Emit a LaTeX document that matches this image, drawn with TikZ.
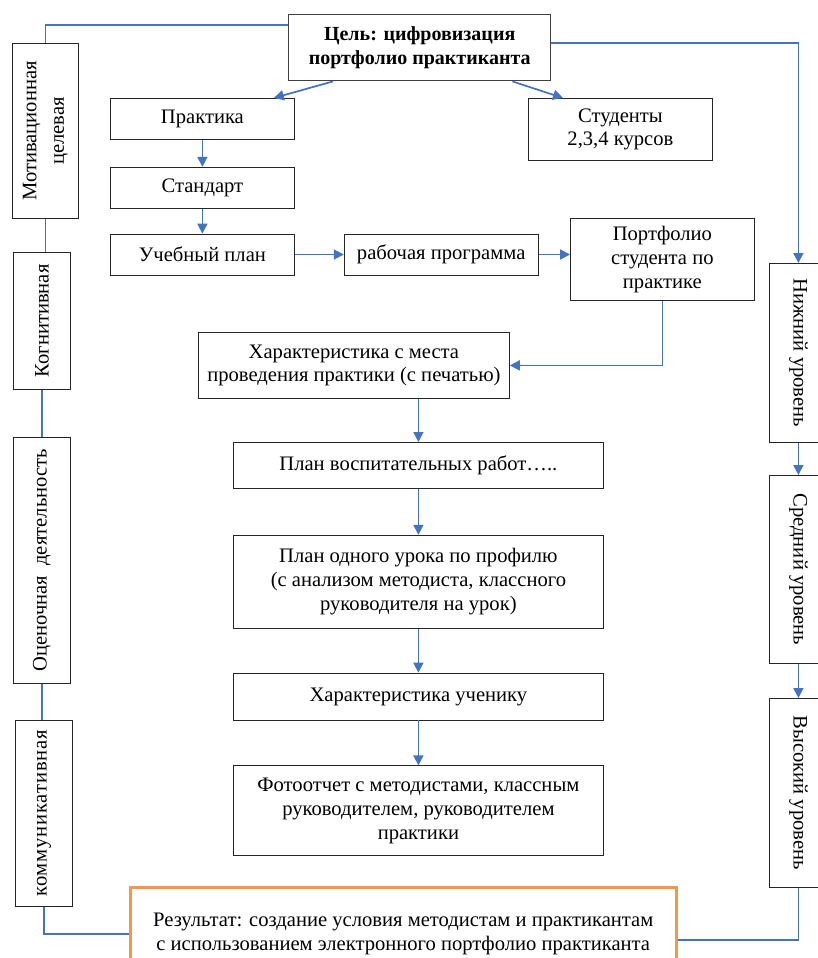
\documentclass[tikz,border=0pt]{standalone}
\usepackage{fontspec}
\setmainfont{Liberation Serif}
\usepackage{graphicx}
\usepackage{tikz}
\usetikzlibrary{arrows.meta,positioning}

\definecolor{linkblue}{RGB}{68,114,196}
\definecolor{resorange}{RGB}{247,150,70}

\tikzset{
  box/.style={draw=black!85, line width=0.8pt, align=center, inner sep=2pt, font={\fontsize{20.6}{23.7}\selectfont}},
  flow/.style={-{Triangle[width=10pt,length=10pt]}, draw=linkblue, line width=1.7pt},
  link/.style={draw=linkblue, line width=1.7pt}
}

\begin{document}
\begin{tikzpicture}[x=1pt, y=-1pt]

\path[use as bounding box, fill=white] (0,0) rectangle (817,958);

\node[box, draw=black!75, line width=1.4pt, minimum width=262pt, minimum height=66pt, anchor=north west, font={\fontsize{20}{23.7}\selectfont\bfseries}] (goal) at (288,14) {Цель: цифровизация\\портфолио практиканта};

% left column
\node[box, minimum width=66pt, minimum height=175pt, anchor=north west] (motiv) at (12,43) {\rotatebox{90}{\begin{tabular}{@{}c@{}}Мотивационная\\[4pt]целевая\end{tabular}}};
\node[box, minimum width=57pt, minimum height=137pt, anchor=north west] (kogn) at (13,252) {\rotatebox{90}{Когнитивная}};
\node[box, minimum width=57pt, minimum height=246pt, anchor=north west] (ocen) at (13,437) {\rotatebox{90}{Оценочная~~деятельность}};
\node[box, minimum width=57pt, minimum height=186pt, anchor=north west] (komm) at (15,720) {\rotatebox{90}{\addfontfeature{LetterSpace=4}коммуникативная}};

% right column
\node[box, minimum width=58pt, minimum height=179pt, anchor=north west] (nizh) at (769,263) {\rotatebox{-90}{Нижний уровень}};
\node[box, minimum width=58pt, minimum height=188pt, anchor=north west] (sred) at (769,475) {\rotatebox{-90}{Средний уровень}};
\node[box, minimum width=58pt, minimum height=189pt, anchor=north west] (vys) at (769,698) {\rotatebox{-90}{Высокий уровень}};

% middle
\node[box, minimum width=184pt, minimum height=41pt, anchor=north west] (praktika) at (110,98) {Практика};
\node[box, minimum width=184pt, minimum height=41pt, below=27pt of praktika] (standart) {Стандарт};
\node[box, minimum width=184pt, minimum height=41pt, below=25pt of standart] (uchplan) {Учебный план};
\node[box, minimum width=194pt, minimum height=41pt, right=49pt of uchplan] (rabprog) {рабочая программа};
\node[box, minimum width=184pt, minimum height=62pt, anchor=north west] (studenty) at (528,98) {Студенты\\2,3,4 курсов};
\node[box, minimum width=184pt, minimum height=82pt, anchor=north west] (portfolio) at (570,218) {Портфолио\\студента по\\практике};
\node[box, minimum width=311pt, minimum height=66pt, anchor=north west] (harakt) at (198,332) {Характеристика с места\\проведения практики (с печатью)};
\node[box, minimum width=370pt, minimum height=46pt, anchor=north west] (planvosp) at (233,442) {План воспитательных работ…..};
\node[box, minimum width=370pt, minimum height=93pt, below=46pt of planvosp] (planurok) {План одного урока по профилю\\(с анализом методиста, классного\\руководителя на урок)};
\node[box, minimum width=370pt, minimum height=47pt, below=44pt of planurok] (haruch) {Характеристика ученику};
\node[box, minimum width=370pt, minimum height=90pt, below=45pt of haruch] (foto) {Фотоотчет с методистами, классным\\руководителем, руководителем\\практики};

\node[box, draw=resorange, line width=2.5pt, minimum width=546pt, minimum height=94pt, anchor=north west] (result) at (129,886) {Результат: создание условия методистам и практикантам\\с использованием электронного портфолио практиканта};

\draw[link] ([yshift=-11pt]goal.north west) -| (motiv.north);
\draw[link] (motiv.south) -- (motiv.south |- kogn.north);
\draw[link] (kogn.south) -- (kogn.south |- ocen.north);
\draw[link] (ocen.south) -- (ocen.south |- komm.north);
\draw[link] (komm.south) |- (result.west);
\draw[link] ([yshift=-6pt]result.east) -| (vys.south);

\draw[flow] ([yshift=-29pt]goal.north east) -| (nizh.north);
\draw[flow] (nizh.south) -- (sred.north);
\draw[flow] (sred.south) -- (vys.north);

\draw[flow] ([xshift=45pt]goal.south west) -- ([xshift=-21pt]praktika.north east);
\draw[flow] ([xshift=-39pt]goal.south east) -- ([xshift=35pt]studenty.north west);
\draw[flow] (praktika) -- (standart);
\draw[flow] (standart) -- (uchplan);
\draw[flow] (uchplan) -- (rabprog);
\draw[flow] (rabprog.east) -- (rabprog.east -| portfolio.west);
\draw[flow] (portfolio.south) |- (harakt.east);
\draw[flow] (harakt.south -| planvosp.north) -- (planvosp.north);
\draw[flow] (planvosp) -- (planurok);
\draw[flow] (planurok) -- (haruch);
\draw[flow] (haruch) -- (foto);

\end{tikzpicture}
\end{document}
